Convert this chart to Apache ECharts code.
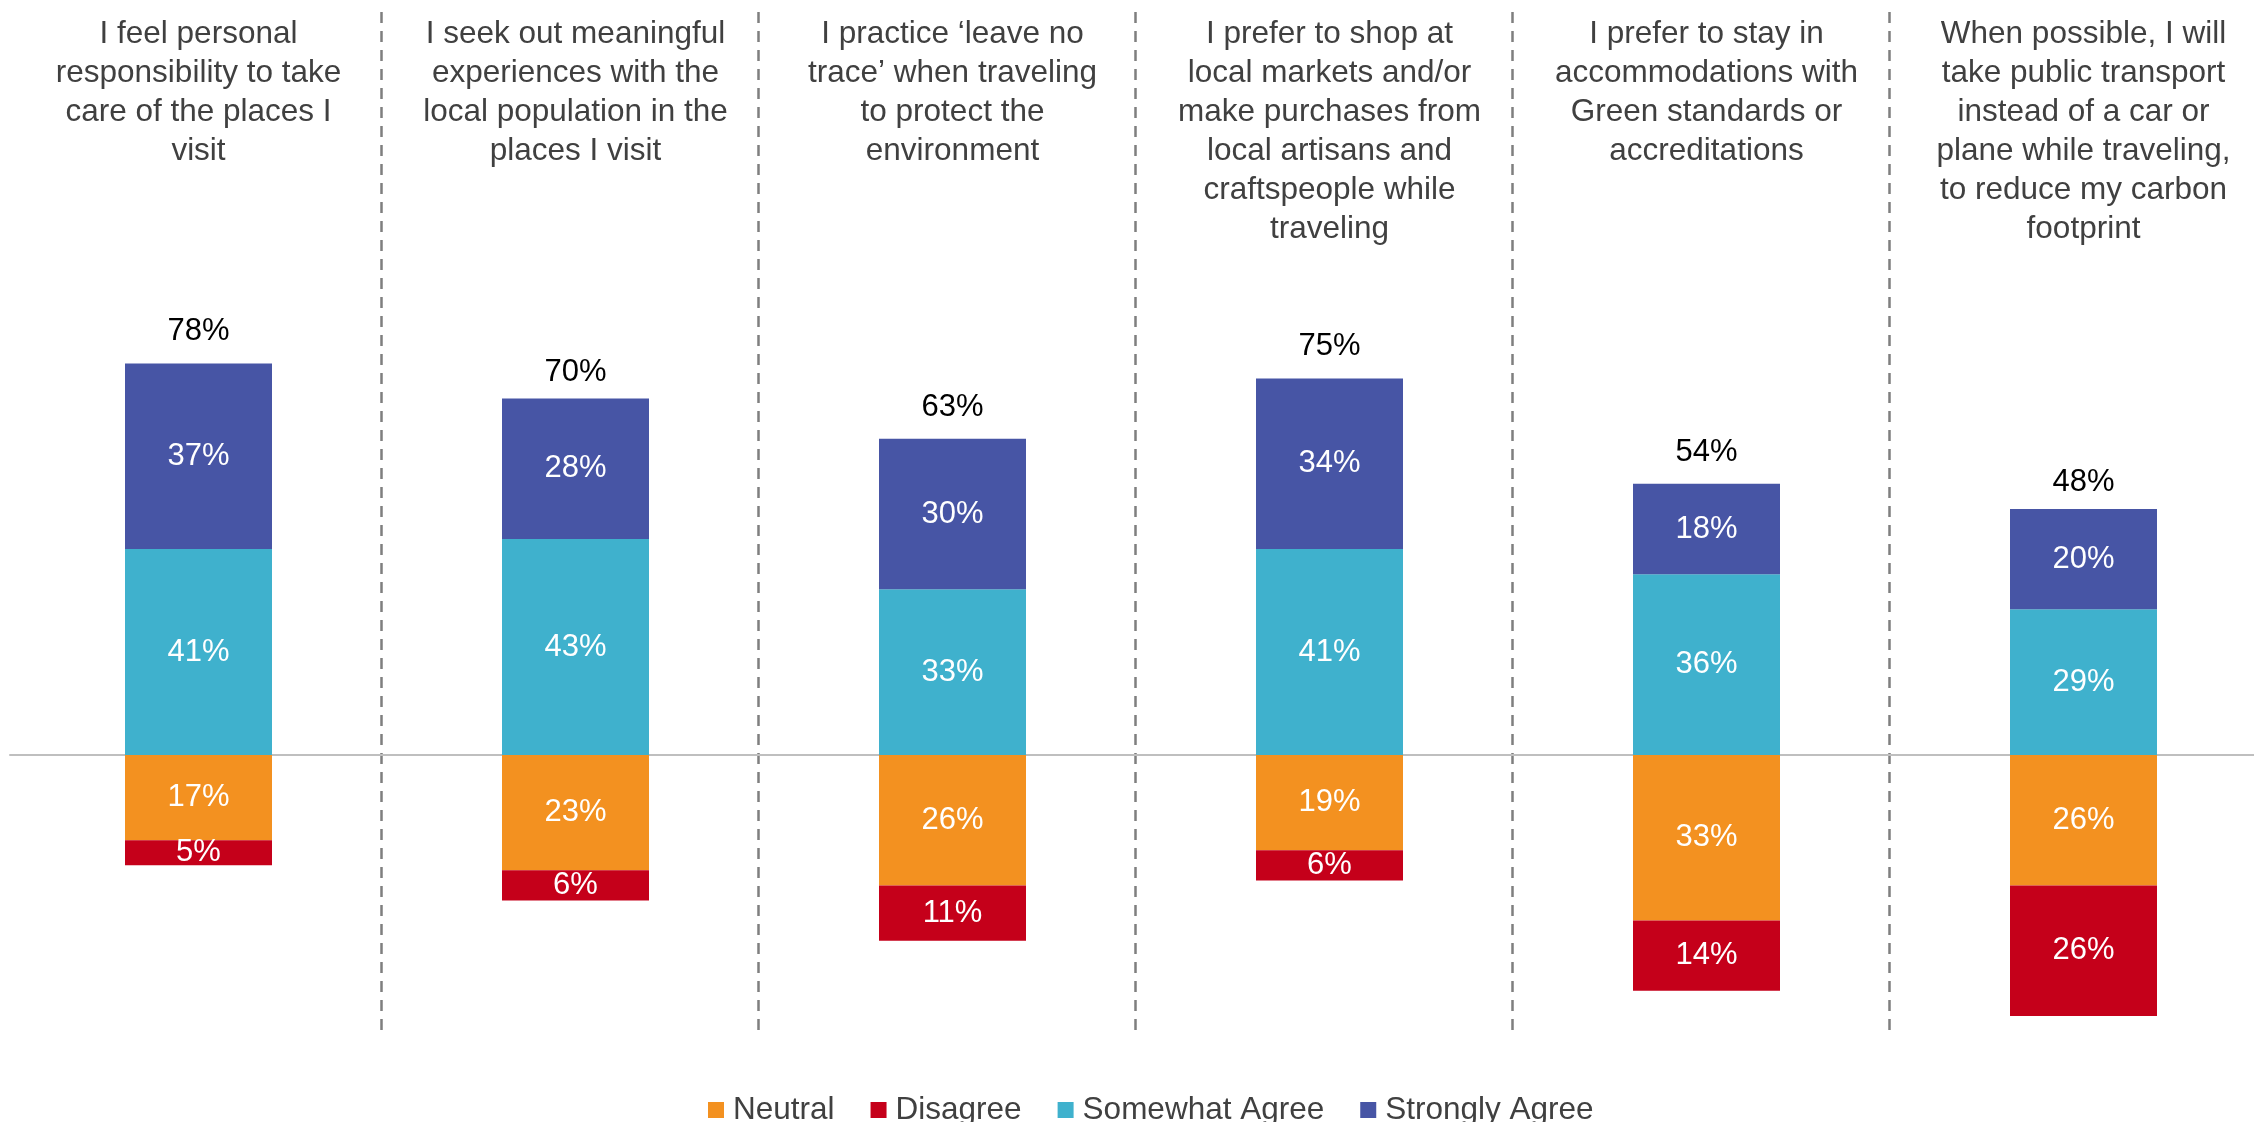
<!DOCTYPE html>
<html>
<head>
<meta charset="utf-8">
<script src="https://cdn.jsdelivr.net/npm/echarts@6/dist/echarts.min.js"></script>
<style>
html,body{margin:0;padding:0;background:#fff;}
#chart{width:2254px;height:1122px;}
</style>
</head>
<body>
<div id="chart"></div>
<script>
const categories = [
  "I feel personal\nresponsibility to take\ncare of the places I\nvisit",
  "I seek out meaningful\nexperiences with the\nlocal population in the\nplaces I visit",
  "I practice \u2018leave no\ntrace\u2019 when traveling\nto protect the\nenvironment",
  "I prefer to shop at\nlocal markets and/or\nmake purchases from\nlocal artisans and\ncraftspeople while\ntraveling",
  "I prefer to stay in\naccommodations with\nGreen standards or\naccreditations",
  "When possible, I will\ntake public transport\ninstead of a car or\nplane while traveling,\nto reduce my carbon\nfootprint"
];
const stronglyAgree = [37, 28, 30, 34, 18, 20];
const somewhatAgree = [41, 43, 33, 41, 36, 29];
const neutral = [17, 23, 26, 19, 33, 26];
const disagree = [5, 6, 11, 6, 14, 26];
const totalAgree = [78, 70, 63, 75, 54, 48];

const FONT = "'Liberation Sans', Arial, sans-serif";
const colors = {
  neutral: '#F39120',
  disagree: '#C5001A',
  somewhat: '#3FB1CD',
  strongly: '#4755A5'
};

const chart = echarts.init(document.getElementById('chart'), null, {renderer: 'canvas'});

const innerLabel = {
  show: true,
  position: 'inside',
  color: '#ffffff',
  fontSize: 31,
  fontFamily: FONT,
  formatter: p => Math.abs(p.value) + '%'
};

const option = {
  backgroundColor: '#ffffff',
  animation: false,
  grid: [
    {left: 10, top: 12, bottom: 91, width: 2262, containLabel: false, outerBoundsMode: 'none'},
    {left: 4, top: 12, bottom: 91, width: 2262, containLabel: false, outerBoundsMode: 'none'}
  ],
  legend: {
    data: ['Neutral', 'Disagree', 'Somewhat Agree', 'Strongly Agree'],
    left: 703,
    top: 1089,
    icon: 'rect',
    itemWidth: 16,
    itemHeight: 16,
    itemGap: 36,
    selectedMode: false,
    textStyle: {fontSize: 31.5, color: '#404040', fontFamily: FONT, padding: [0, 0, 0, 4]}
  },
  xAxis: [
    {
      type: 'category',
      gridIndex: 0,
      data: categories,
      position: 'top',
      axisLine: {show: false, onZero: false},
      axisTick: {show: false},
      axisLabel: {
        inside: true,
        margin: 3,
        verticalAlign: 'top',
        interval: 0,
        fontSize: 31.5,
        lineHeight: 39,
        color: '#404040',
        fontFamily: FONT
      },
      splitLine: {show: false}
    },
    {
      type: 'category',
      gridIndex: 0,
      data: categories,
      position: 'bottom',
      axisLine: {show: true, onZero: true, lineStyle: {color: '#bfbfbf', width: 2}},
      axisTick: {show: false},
      axisLabel: {show: false},
      splitLine: {show: false}
    },
    {
      type: 'category',
      gridIndex: 1,
      data: categories,
      axisLine: {show: false},
      axisTick: {show: false},
      axisLabel: {show: false},
      splitLine: {
        show: true,
        interval: function (i) { return i > 0; },
        lineStyle: {color: '#7f7f7f', width: 2.5, type: [11, 8]}
      }
    }
  ],
  yAxis: [
    {type: 'value', gridIndex: 0, min: -55, max: 148, show: false},
    {type: 'value', gridIndex: 1, min: -55, max: 148, show: false}
  ],
  series: [
    {
      name: 'Somewhat Agree', type: 'bar', stack: 'pos', barWidth: 147, barGap: '-100%',
      itemStyle: {color: colors.somewhat},
      label: innerLabel,
      data: somewhatAgree
    },
    {
      name: 'Strongly Agree', type: 'bar', stack: 'pos', barWidth: 147, barGap: '-100%',
      itemStyle: {color: colors.strongly},
      label: innerLabel,
      data: stronglyAgree
    },
    {
      name: 'Neutral', type: 'bar', stack: 'neg', barWidth: 147, barGap: '-100%',
      itemStyle: {color: colors.neutral},
      label: innerLabel,
      data: neutral.map(v => -v)
    },
    {
      name: 'Disagree', type: 'bar', stack: 'neg', barWidth: 147, barGap: '-100%',
      itemStyle: {color: colors.disagree},
      label: innerLabel,
      data: disagree.map(v => -v)
    },
    {
      name: 'Total', type: 'bar', barWidth: 147, barGap: '-100%',
      itemStyle: {color: 'rgba(0,0,0,0)'},
      silent: true,
      z: 1,
      label: {
        show: true,
        position: 'top',
        distance: 16,
        color: '#000000',
        fontSize: 31,
        fontFamily: FONT,
        formatter: p => p.value + '%'
      },
      data: totalAgree
    }
  ]
};
chart.setOption(option);
</script>
</body>
</html>
